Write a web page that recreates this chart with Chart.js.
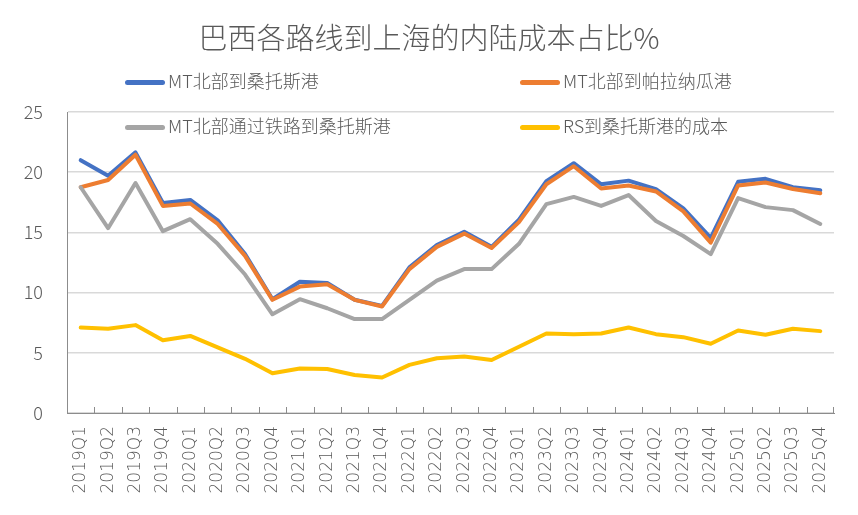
<!DOCTYPE html>
<html>
<head>
<meta charset="utf-8">
<script src="https://cdn.jsdelivr.net/npm/chart.js@4.4.1/dist/chart.umd.min.js"></script>
<style>
  html, body { margin: 0; padding: 0; background: #fff; }
  #wrap { position: relative; width: 858px; height: 515px; font-family: "Noto Sans CJK SC", "Noto Sans", sans-serif; color: #595959; }
  #title { position: absolute; left: 0; top: 14px; width: 858px; text-align: center; font-size: 29px; font-weight: 300; line-height: 44px; }
  .lg { position: absolute; font-size: 18px; font-weight: 300; line-height: 24px; white-space: nowrap; background: #fff; padding-right: 4px; }
  .lg i { display: inline-block; width: 40px; height: 5px; border-radius: 3px; vertical-align: middle; margin-right: 3px; position: relative; top: -1px; }
  canvas { position: absolute; left: 0; top: 0; }
</style>
</head>
<body>
<div id="wrap">
  <canvas id="c" width="858" height="515"></canvas>
  <div id="title">巴西各路线到上海的内陆成本占比%</div>
  <div id="legend"></div>
</div>
<script>
// 季度
const quarters = [
  '2019Q1','2019Q2','2019Q3','2019Q4','2020Q1','2020Q2','2020Q3','2020Q4',
  '2021Q1','2021Q2','2021Q3','2021Q4','2022Q1','2022Q2','2022Q3','2022Q4',
  '2023Q1','2023Q2','2023Q3','2023Q4','2024Q1','2024Q2','2024Q3','2024Q4',
  '2025Q1','2025Q2','2025Q3','2025Q4'
];

// MT北部到桑托斯港
const mtToSantos = [
  21.0, 19.7, 21.65, 17.45, 17.7, 16.0, 13.2, 9.45,
  10.9, 10.8, 9.4, 8.9, 12.1, 13.95, 15.05, 13.8,
  16.05, 19.25, 20.75, 19.0, 19.3, 18.6, 17.0, 14.55,
  19.2, 19.45, 18.75, 18.5
];

// MT北部到帕拉纳瓜港
const mtToParanagua = [
  18.75, 19.35, 21.45, 17.2, 17.4, 15.7, 13.05, 9.4,
  10.5, 10.7, 9.4, 8.85, 11.95, 13.8, 14.9, 13.7,
  15.85, 19.0, 20.5, 18.65, 18.9, 18.4, 16.75, 14.15,
  18.9, 19.15, 18.6, 18.25
];

// MT北部通过铁路到桑托斯港
const mtRailToSantos = [
  18.75, 15.35, 19.1, 15.1, 16.1, 14.05, 11.5, 8.2,
  9.45, 8.7, 7.8, 7.8, 9.4, 11.0, 11.95, 11.95,
  14.05, 17.35, 17.95, 17.2, 18.1, 15.95, 14.7, 13.2,
  17.85, 17.1, 16.85, 15.7
];

// RS到桑托斯港的成本
const rsToSantos = [
  7.1, 7.0, 7.3, 6.05, 6.4, 5.45, 4.5, 3.3,
  3.7, 3.65, 3.15, 2.95, 4.0, 4.55, 4.7, 4.4,
  5.5, 6.6, 6.55, 6.6, 7.1, 6.55, 6.3, 5.75,
  6.85, 6.5, 7.0, 6.8
];

const yTicks = [0, 5, 10, 15, 20, 25];

const series = [
  { name: 'MT北部到桑托斯港', data: mtToSantos, color: '#4472C4', order: 4 },
  { name: 'MT北部到帕拉纳瓜港', data: mtToParanagua, color: '#ED7D31', order: 3 },
  { name: 'MT北部通过铁路到桑托斯港', data: mtRailToSantos, color: '#A5A5A5', order: 2 },
  { name: 'RS到桑托斯港的成本', data: rsToSantos, color: '#FFC000', order: 1 }
];

// 凡例 (HTML)
const legendPos = [[125, 68], [520, 68], [125, 113], [520, 113]];
const legendBox = document.getElementById('legend');
series.forEach((s, i) => {
  const el = document.createElement('div');
  el.className = 'lg';
  el.style.left = legendPos[i][0] + 'px';
  el.style.top = legendPos[i][1] + 'px';
  el.innerHTML = `<i style="background:${s.color}"></i>${s.name}`;
  legendBox.appendChild(el);
});

// x軸の内向き目盛り
const innerTicks = {
  id: 'innerTicks',
  afterDatasetsDraw(chart) {
    const x = chart.scales.x;
    const ctx = chart.ctx;
    const bottom = chart.chartArea.bottom;
    ctx.save();
    ctx.strokeStyle = '#8C8C8C';
    ctx.lineWidth = 1;
    for (let i = 1; i <= quarters.length; i++) {
      const px = Math.round((x.getPixelForValue(i - 1) + x.getPixelForValue(i)) / 2) + 0.5;
      const edge = i === quarters.length ? chart.chartArea.right - 0.5 : px;
      ctx.beginPath();
      ctx.moveTo(edge, bottom);
      ctx.lineTo(edge, bottom - 6);
      ctx.stroke();
    }
    ctx.restore();
  }
};

const fontFamily = '"Noto Sans CJK SC", "Noto Sans", sans-serif';

new Chart(document.getElementById('c'), {
  type: 'line',
  data: {
    labels: quarters,
    datasets: series.map(s => ({
      label: s.name,
      data: s.data,
      borderColor: s.color,
      backgroundColor: s.color,
      borderWidth: 4,
      pointRadius: 0,
      tension: 0,
      order: s.order,
      borderCapStyle: 'round',
      borderJoinStyle: 'round'
    }))
  },
  options: {
    responsive: false,
    animation: false,
    layout: { padding: { top: 112, right: 24, left: 0, bottom: 0 } },
    plugins: { legend: { display: false }, title: { display: false }, tooltip: { enabled: false } },
    scales: {
      x: {
        offset: true,
        grid: { display: false, drawTicks: false },
        border: { color: '#8C8C8C', width: 1 },
        ticks: {
          autoSkip: false, minRotation: 90, maxRotation: 90, padding: 13,
          color: '#595959', font: { family: '"DejaVu Sans", sans-serif', size: 17, weight: 200 }
        },
        afterFit: s => { s.height = 102; }
      },
      y: {
        min: 0, max: 25,
        afterBuildTicks: s => { s.ticks = yTicks.map(v => ({ value: v })); },
        grid: { color: '#D9D9D9', lineWidth: 1.5, drawTicks: false },
        border: { color: '#8C8C8C', width: 1 },
        ticks: { padding: 24, color: '#595959', font: { family: fontFamily, size: 18, weight: 300 } },
        afterFit: s => { s.width = 67; }
      }
    }
  },
  plugins: [innerTicks]
});
</script>
</body>
</html>
